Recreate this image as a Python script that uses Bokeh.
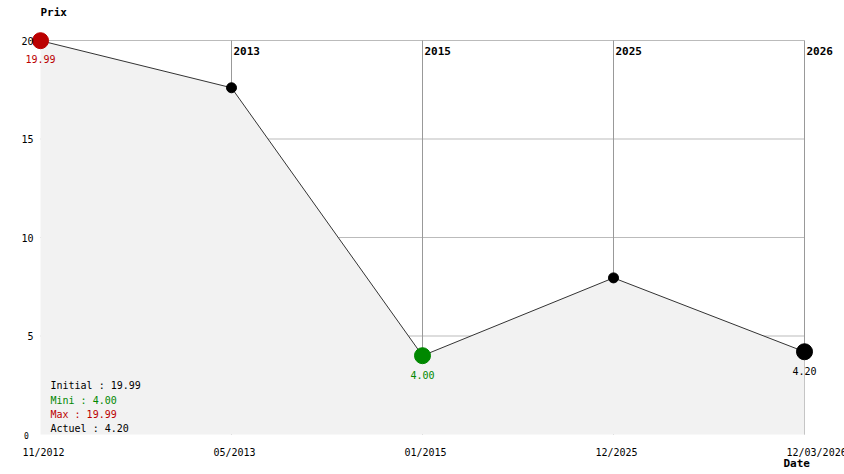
from bokeh.plotting import figure
from bokeh.models import Range1d
from bokeh.core.properties import value
from bokeh.embed import file_html
from bokeh.resources import INLINE

# ---- data ----
dates = ["11/2012", "05/2013", "01/2015", "12/2025", "12/03/2026"]
prices = [19.99, 17.6, 4.00, 7.95, 4.20]
years = ["2013", "2015", "2025", "2026"]
y_ticks = [20, 15, 10, 5]
y_zero = [0]

MONO = value("DejaVu Sans Mono")

W, H = 844, 474
left, right, top, bottom = 40, 40, 40, 40
n = len(prices)
xpx = (W - left - right) / (n - 1)
ypx = (H - top - bottom) / 20.0

p = figure(width=W, height=H, output_backend="svg", toolbar_location=None,
           x_axis_type=None, y_axis_type=None,
           x_range=Range1d(-left / xpx, (n - 1) + right / xpx),
           y_range=Range1d(-bottom / ypx, 20 + top / ypx),
           min_border=0, outline_line_color=None, background_fill_color="white",
           border_fill_color="white")
p.xgrid.visible = False
p.ygrid.visible = False

xs = list(range(n))

# horizontal grid lines
p.segment(x0=[0] * len(y_ticks), x1=[n - 1] * len(y_ticks), y0=y_ticks, y1=y_ticks,
          line_color="#bbbbbb", line_width=1)
# vertical year lines
vx = xs[1:]
p.segment(x0=vx, x1=vx, y0=[0] * len(vx), y1=[20] * len(vx),
          line_color="#999999", line_width=1)

# fill under curve
p.varea(x=xs, y1=[0] * n, y2=prices, fill_color="#f2f2f2")
# price line
p.line(xs, prices, line_color="#333333", line_width=1)

# markers
imin = prices.index(min(prices))
small = [i for i in range(1, n - 1) if i != imin]
p.scatter([xs[i] for i in small], [prices[i] for i in small], size=10,
          fill_color="black", line_color="black")
p.scatter([xs[0]], [prices[0]], size=16, fill_color="#bb0000", line_color="#bb0000")
p.scatter([xs[imin]], [prices[imin]], size=16, fill_color="#008800", line_color="#008800")
p.scatter([xs[-1]], [prices[-1]], size=16, fill_color="black", line_color="black")

# value labels under special points
p.text([xs[0]], [prices[0]], text=[f"{prices[0]:.2f}"], text_color="#bb0000",
       text_font=MONO, text_font_size="10px", text_align="center",
       text_baseline="middle", y_offset=18)
p.text([xs[imin]], [prices[imin]], text=[f"{prices[imin]:.2f}"], text_color="#008800",
       text_font=MONO, text_font_size="10px", text_align="center",
       text_baseline="middle", y_offset=19)
p.text([xs[-1]], [prices[-1]], text=[f"{prices[-1]:.2f}"], text_color="black",
       text_font=MONO, text_font_size="10px", text_align="center",
       text_baseline="middle", y_offset=19)

# y tick labels
p.text([0] * len(y_ticks), y_ticks, text=[str(t) for t in y_ticks], text_color="black",
       text_font=MONO, text_font_size="10px", text_align="right",
       text_baseline="middle", x_offset=-7)
p.text([0], y_zero, text=[str(t) for t in y_zero], text_color="black",
       text_font=MONO, text_font_size="8px", text_align="center",
       text_baseline="middle", x_offset=-14, y_offset=1)

# x date labels
p.text(xs, [0] * n, text=dates, text_color="black", text_font=MONO,
       text_font_size="10px", text_align="left", text_baseline="middle",
       x_offset=-18, y_offset=18)

# year labels at top of vertical lines
p.text(vx, [20] * len(vx), text=years, text_color="black", text_font=MONO,
       text_font_size="11px", text_font_style="bold", text_align="left",
       text_baseline="middle", x_offset=2, y_offset=10)

# axis titles
p.text([0], [20], text=["Prix"], text_color="black", text_font=MONO,
       text_font_size="11px", text_font_style="bold", text_align="left",
       text_baseline="middle", y_offset=-28)
p.text([xs[-1]], [0], text=["Date"], text_color="black", text_font=MONO,
       text_font_size="11px", text_font_style="bold", text_align="left",
       text_baseline="middle", x_offset=-21, y_offset=29)

# stats box
stats = [f"Initial : {prices[0]:.2f}", f"Mini : {min(prices):.2f}",
         f"Max : {max(prices):.2f}", f"Actuel : {prices[-1]:.2f}"]
stat_colors = ["black", "#008800", "#bb0000", "black"]
stat_offsets = [-49, -34, -20, -6]
for s, c, o in zip(stats, stat_colors, stat_offsets):
    p.text([0], [0], text=[s], text_color=c, text_font=MONO, text_font_size="10px",
           text_align="left", text_baseline="middle", x_offset=10, y_offset=o)

open("out.html", "w").write(file_html(p, INLINE))
